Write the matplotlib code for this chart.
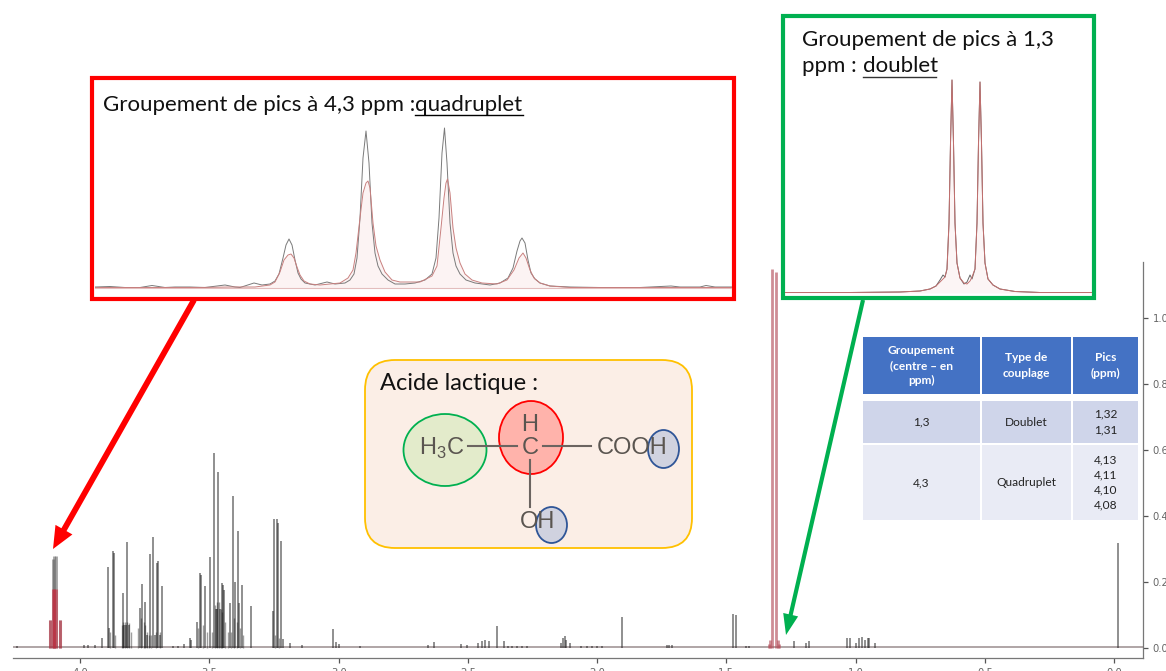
import matplotlib
matplotlib.use("Agg")
import matplotlib.pyplot as plt
from matplotlib.patches import Ellipse, FancyBboxPatch, Rectangle

W, H = 1166, 671
plt.rcParams["font.family"] = ["Lato", "DejaVu Sans"]
plt.rcParams["mathtext.fontset"] = "custom"
plt.rcParams["mathtext.rm"] = "Liberation Sans"

# sticks of the full spectrum: ppm and height
peak_ppm = [4.246, 3.985, 3.97, 3.943, 3.917, 3.893, 3.889, 3.875, 3.870, 3.836, 3.829, 3.823, 3.817, 3.810,
            3.768, 3.760, 3.748, 3.740, 3.729, 3.717, 3.710, 3.703, 3.698, 3.692, 3.684,
            3.64, 3.62, 3.60, 3.575, 3.57, 3.55, 3.537, 3.532, 3.517, 3.498, 3.481, 3.475, 3.47, 3.466, 3.46,
            3.453, 3.449, 3.444, 3.419, 3.409, 3.403, 3.39, 3.385, 3.374, 3.341,
            3.255, 3.25, 3.24, 3.235, 3.222, 3.217, 3.19, 3.143, 3.023, 3.01, 2.997, 2.917,
            2.656, 2.631, 2.527, 2.503, 2.46, 2.447, 2.434, 2.419, 2.388, 2.361, 2.344, 2.33, 2.31, 2.29, 2.27,
            2.14, 2.131, 2.125, 2.119, 2.106, 2.061, 2.04, 2.02, 2.0, 1.98, 1.905,
            1.73, 1.72, 1.71, 1.476, 1.464, 1.423, 1.412,
            1.237, 1.193, 1.182, 1.033, 1.023, 1.0, 0.987, 0.977, 0.965, 0.952, 0.947, 0.925, -0.017]
peak_height = [.007, .008, .008, .008, .03, .245, .06, .293, .288, .167, .07, .07, .323, .07,
               .121, .195, .141, .04, .286, .336, .04, .258, .263, .04, .187,
               .006, .006, .012, .03, .025, .08, .229, .222, .189, .275, .591, .12, .12, .533, .12,
               .197, .192, .177, .136, .46, .2, .354, .136, .19, .128,
               .111, .392, .391, .379, .326, .028, .015, .008, .059, .02, .013, .005,
               .01, .017, .013, .01, .015, .022, .024, .022, .066, .022, .006, .006, .006, .006, .006,
               .015, .03, .037, .025, .015, .007, .005, .005, .005, .005, .093,
               .008, .008, .008, .103, .101, .007, .007,
               .022, .015, .022, .032, .032, .015, .032, .033, .025, .03, .03, .015, .318]

# low overlapping peaks that darken the foot of each cluster
foot_ppm = [3.885, 3.865, 3.84, 3.833, 3.826, 3.82, 3.813, 3.805, 3.775, 3.765, 3.755, 3.75, 3.743, 3.735, 3.725,
            3.708, 3.69, 3.545, 3.525, 3.51, 3.49, 3.478, 3.472, 3.463, 3.457, 3.45, 3.44, 3.43, 3.415, 3.405,
            3.395, 3.38, 3.37, 3.245, 3.23]
foot_height = [.05, .04, .07, .08, .08, .08, .075, .05, .06, .09, .08, .07, .05, .04, .04,
               .05, .05, .06, .07, .05, .05, .13, .14, .14, .12, .11, .08, .05, .05, .09,
               .08, .06, .04, .04, .03]

# the two groups picked out in red on the spectrum
quartet_ppm = [4.117, 4.107, 4.1, 4.092, 4.08]
quartet_black = [.085, .27, .28, .28, .085]
quartet_red = [.085, .18, .18, .18, .085]
doublet_ppm = [1.335, 1.33, 1.322, 1.309, 1.30, 1.295]
doublet_height = [.012, .025, 1.15, 1.14, .025, .012]

ppm_ticks = [4.0, 3.5, 3.0, 2.5, 2.0, 1.5, 1.0, 0.5, 0.0]
height_ticks = [0.0, 0.2, 0.4, 0.6, 0.8, 1.0]

# quadruplet close-up, read as (position along the box, height)
quad_pos = [95, 110, 125, 140, 152, 165, 175, 190, 205, 225, 235, 240, 254, 262, 270, 275, 279, 283, 286, 289, 292,
            295, 298, 301, 305, 315, 327, 335, 345, 350, 354, 357, 360, 363, 366, 369, 372, 375, 378, 382, 388, 395,
            405, 415, 425, 432, 436, 439, 442, 444.5, 447, 450, 453, 456, 460, 466, 475, 490, 500, 508, 513, 517,
            520, 522, 525, 528, 531, 535, 540, 550, 570, 600, 640, 671, 680, 700, 706, 715, 732]
quad_black = [1, 1.5, .5, .5, 2.5, .5, 1, 1, .5, 3, 1, .5, 5, 3, 4, 7, 14, 30, 43, 49, 43,
              28, 15, 9, 5, 3, 6, 4, 5, 8, 14, 30, 70, 130, 157, 125, 65, 35, 22, 14, 8, 4,
              4, 5, 8, 14, 30, 70, 135, 160, 125, 65, 35, 22, 14, 8, 5, 3, 5, 10, 20, 37,
              47, 50, 45, 28, 15, 9, 5, 2, 1, .5, .5, 2, 1, 1, 2.5, 1, 1]
quad_red_pos = [95, 200, 230, 255, 270, 275, 280, 284, 288, 291, 294, 297, 300, 304, 310, 320, 340, 348, 353, 356,
                360, 363, 366, 368, 370, 373, 376, 380, 385, 392, 400, 420, 432, 437, 441, 444, 446, 447.5, 450,
                453, 456, 460, 465, 472, 482, 497, 507, 514, 519, 523, 526, 530, 534, 540, 550, 570, 732]
quad_red = [.5, .5, 1, 1, 3, 6, 16, 28, 33, 34, 30, 21, 13, 7, 4, 3, 5, 10, 18, 35,
            70, 95, 105, 107, 100, 65, 42, 28, 16, 8, 6, 6, 12, 22, 60, 90, 105, 109, 95,
            60, 40, 25, 14, 8, 5, 4, 8, 18, 30, 35, 30, 18, 10, 5, 2, .5, .5]

# doublet close-up, same reading
doub_pos = [785, 850, 900, 920, 930, 936, 940, 943, 945, 947, 949, 950.5, 952, 953.5, 955, 957, 960, 964, 967, 970,
            972, 975, 977, 978.5, 980, 981.5, 983, 985, 988, 993, 1000, 1015, 1040, 1092]
doub_black = [.5, .5, 1, 2, 4, 7, 13, 18, 16, 24, 70, 150, 213, 150, 70, 30, 15, 9, 11, 18,
              14, 24, 70, 150, 211, 150, 70, 30, 14, 8, 4, 1.5, .5, .5]
doub_red = [.5, .5, 1, 2, 4, 7, 11, 14, 16, 24, 70, 150, 213, 150, 70, 30, 15, 10, 9, 12,
            16, 24, 70, 150, 211, 150, 70, 30, 14, 8, 4, 1.5, .5, .5]

table_header = ["Groupement\n(centre – en\nppm)", "Type de\ncouplage", "Pics\n(ppm)"]
table_row1 = ["1,3", "Doublet", "1,32\n1,31"]
table_row2 = ["4,3", "Quadruplet", "4,13\n4,11\n4,10\n4,08"]
table_colors = ["#4472C4", "#CFD5EA", "#E9EBF5"]


def axes_px(x0, y0, x1, y1, **kw):
    # axes placed with picture pixels, y going down
    return fig.add_axes([x0 / W, 1 - y1 / H, (x1 - x0) / W, (y1 - y0) / H], **kw)


fig = plt.figure(figsize=(W / 100, H / 100), dpi=100)

# full spectrum
ax = axes_px(13, 262, 1143, 658)
ax.set_zorder(1)
ax.set_xlim(4.26, -0.112)
ax.set_ylim(-0.03, 1.17)
ax.plot([4.26, -0.112], [0.002, 0.002], color="#9a8d8e", lw=1.1)
ax.vlines(peak_ppm, 0, peak_height, color="#222222", alpha=0.5, lw=1.4)
ax.vlines(foot_ppm, 0, foot_height, color="#111111", alpha=0.4, lw=1.0)
ax.vlines(quartet_ppm, 0, quartet_black, color="#555555", alpha=0.55, lw=2.0)
ax.vlines(quartet_ppm, 0, quartet_red, color="#c8283c", alpha=0.55, lw=2.2)
ax.vlines(doublet_ppm, 0, doublet_height, color="#b5505c", alpha=0.65, lw=2.0)
for side in ["top", "left"]:
    ax.spines[side].set_visible(False)
for side in ["right", "bottom"]:
    ax.spines[side].set_color("#777777")
    ax.spines[side].set_linewidth(0.9)
ax.set_xticks(ppm_ticks)
ax.set_xticklabels([f"{t:.1f}" for t in ppm_ticks])
ax.yaxis.tick_right()
ax.set_yticks(height_ticks)
ax.set_yticklabels([f"{t:.1f}" for t in height_ticks])
ax.tick_params(length=3.5, width=0.9, color="#555555", labelcolor="#666666", labelsize=7.2, pad=3.5)
for lab in ax.get_xticklabels() + ax.get_yticklabels():
    lab.set_family("DejaVu Sans")

# page layer: frames, arrows, molecule, table
page = fig.add_axes([0, 0, 1, 1])
page.set_zorder(2)
page.set_xlim(0, W)
page.set_ylim(H, 0)
page.axis("off")
page.patch.set_alpha(0)

page.add_patch(Rectangle((92, 78), 642, 221, fc="white", ec="#FF0000", lw=3.0))
page.add_patch(Rectangle((783, 16), 311, 282, fc="white", ec="#00B050", lw=3.0))
page.annotate("", xy=(53, 549), xytext=(194, 300),
              arrowprops=dict(width=4.2, headwidth=14, headlength=16, shrink=0, fc="#FF0000", ec="#FF0000", lw=0))
page.annotate("", xy=(786, 635), xytext=(863, 300),
              arrowprops=dict(width=3.0, headwidth=11, headlength=15, shrink=0, fc="#00B050", ec="#00B050", lw=0))

label = dict(fontsize=16, color="#111111", va="baseline", zorder=5)
page.text(103, 111, "Groupement de pics à 4,3 ppm :", **label)
page.text(415, 111, "quadruplet", **label)
page.plot([415, 523], [114.5, 114.5], color="black", lw=1.0, zorder=5)
page.text(802, 46, "Groupement de pics à 1,3", **label)
page.text(802, 72, "ppm : ", **label)
page.text(863, 72, "doublet", **label)
page.plot([863, 936], [76.5, 76.5], color="#333333", lw=1.0, zorder=5)

# molecule panel
page.add_patch(FancyBboxPatch((365, 360), 327, 188, boxstyle="round,pad=0,rounding_size=30",
                              fc="#FBEEE6", ec="#FFC000", lw=1.3))
page.text(380, 390, "Acide lactique :", fontsize=17, color="#111111", va="baseline")
page.add_patch(Ellipse((445, 450), 83, 72, fc="#E3EBCB", ec="#00B050", lw=1.3))
page.add_patch(Ellipse((531, 437.5), 64, 73, fc="#FFB3AB", ec="#FF0000", lw=1.3))
page.add_patch(Ellipse((663.5, 449), 31, 38, fc="#D0D2DF", ec="#2F5597", lw=1.3))
page.add_patch(Ellipse((551.5, 525), 31, 36, fc="#D0D2DF", ec="#2F5597", lw=1.3))
bond = dict(color="#6b6460", lw=1.5, zorder=4)
page.plot([468, 517], [446, 446], **bond)
page.plot([543, 591], [446, 446], **bond)
page.plot([530, 530], [460, 507], **bond)
chem = dict(family="Liberation Sans", fontsize=17, color="#5a5550", ha="center", va="center", zorder=5)
page.text(442, 448, "H$_3$C", **chem)
page.text(530, 425, "H", **chem)
page.text(530, 448, "C", **chem)
page.text(632, 448, "COOH", **chem)
page.text(538, 522, "OH", **chem)

# table
col_x = [(863, 980), (982, 1071), (1073, 1138)]
row_y = [(337, 394), (401, 443), (445, 520)]
for (y0, y1), labels, color in zip(row_y, [table_header, table_row1, table_row2], table_colors):
    header = color == table_colors[0]
    for (x0, x1), cell in zip(col_x, labels):
        page.add_patch(Rectangle((x0, y0), x1 - x0, y1 - y0, fc=color, lw=0))
        page.text((x0 + x1) / 2, (y0 + y1) / 2, cell, ha="center", va="center", fontsize=8.6,
                  linespacing=1.47, color="white" if header else "#222222",
                  fontweight="bold" if header else "normal")

# close-ups
inset_q = axes_px(95, 80, 732, 297)
inset_q.set_zorder(3)
inset_q.set_xlim(95, 732)
inset_q.set_ylim(-9, 208)
inset_q.axis("off")
inset_q.fill_between(quad_red_pos, 0, quad_red, color="#f3c9c9", alpha=0.22, lw=0)
inset_q.plot([95, 732], [0, 0], color="#e3bdbd", lw=0.8)
inset_q.plot(quad_pos, quad_black, color="#7a7a7a", lw=0.7)
inset_q.plot(quad_red_pos, quad_red, color="#c9807f", lw=0.7)

inset_d = axes_px(785, 18, 1092, 297)
inset_d.set_zorder(3)
inset_d.set_xlim(785, 1092)
inset_d.set_ylim(-4, 275)
inset_d.axis("off")
inset_d.fill_between(doub_pos, 0, doub_red, color="#f3c9c9", alpha=0.18, lw=0)
inset_d.plot(doub_pos, doub_black, color="#666666", lw=0.7)
inset_d.plot(doub_pos, doub_red, color="#c4706f", lw=0.7)

fig.savefig("out.png", dpi=100)
